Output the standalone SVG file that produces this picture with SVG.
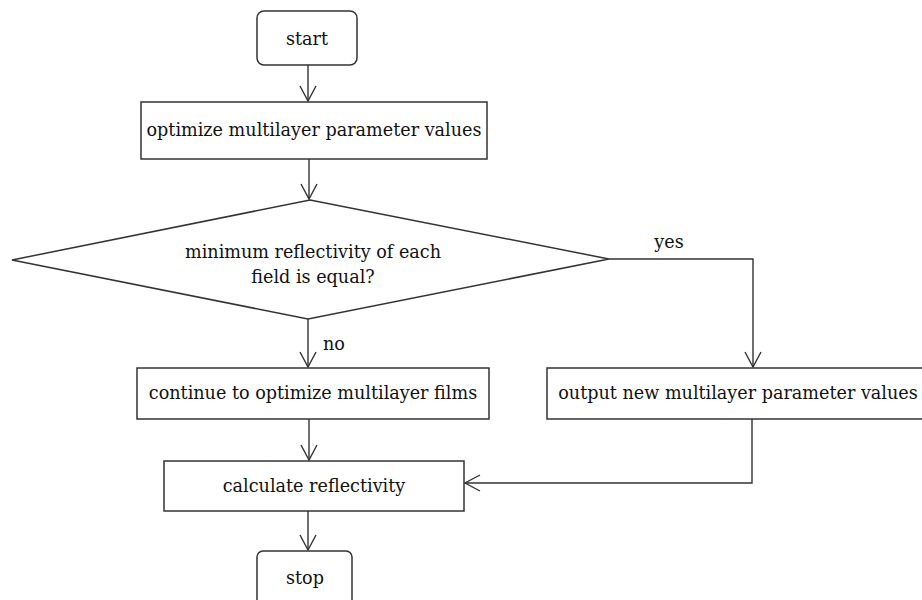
<svg xmlns="http://www.w3.org/2000/svg" width="922" height="600" viewBox="0 0 922 600">
<style>
.s{fill:#fff;stroke:#333;stroke-width:1.5}
.c{fill:none;stroke:#333;stroke-width:1.4}
text{font-family:"DejaVu Serif","Liberation Serif",serif;font-size:17.6px;fill:#111;text-anchor:middle}
</style>
<defs>
<marker id="a" markerWidth="20" markerHeight="20" viewBox="-16 -10 18 20" refX="0" refY="0" orient="auto" markerUnits="userSpaceOnUse">
<path d="M-15,-8 L0,0 L-15,8" fill="none" stroke="#333" stroke-width="1.4"/>
</marker>
</defs>
<rect width="922" height="600" fill="#fff"/>
<g id="connectors">
<line class="c" x1="308" y1="65" x2="308" y2="101" marker-end="url(#a)"/>
<line class="c" x1="309" y1="159" x2="309" y2="199" marker-end="url(#a)"/>
<line class="c" x1="308" y1="319" x2="308" y2="367" marker-end="url(#a)"/>
<polyline class="c" points="609,259 753,259 753,367" marker-end="url(#a)"/>
<line class="c" x1="309" y1="419" x2="309" y2="460" marker-end="url(#a)"/>
<polyline class="c" points="752,419 752,483 465,483" marker-end="url(#a)"/>
<line class="c" x1="308" y1="511" x2="308" y2="550" marker-end="url(#a)"/>
<text x="669" y="248">yes</text>
<text x="334" y="350">no</text>
</g>
<g id="start">
<rect class="s" x="257" y="11" width="100" height="54" rx="7"/>
<text x="307" y="45">start</text>
</g>
<g id="optimize">
<rect class="s" x="141" y="102" width="346" height="57"/>
<text x="314" y="136">optimize multilayer parameter values</text>
</g>
<g id="decision">
<polygon class="s" points="310,200 609,259 308,319 12,260"/>
<text x="313" y="258">minimum reflectivity of each</text>
<text x="313" y="283">field is equal?</text>
</g>
<g id="continue">
<rect class="s" x="137" y="368" width="352" height="51"/>
<text x="313" y="399">continue to optimize multilayer films</text>
</g>
<g id="output">
<rect class="s" x="547" y="368" width="380" height="51"/>
<text x="738" y="399">output new multilayer parameter values</text>
</g>
<g id="calculate">
<rect class="s" x="164" y="461" width="300" height="50"/>
<text x="314" y="492">calculate reflectivity</text>
</g>
<g id="stop">
<rect class="s" x="257" y="551" width="95" height="60" rx="6"/>
<text x="305" y="584">stop</text>
</g>
</svg>
